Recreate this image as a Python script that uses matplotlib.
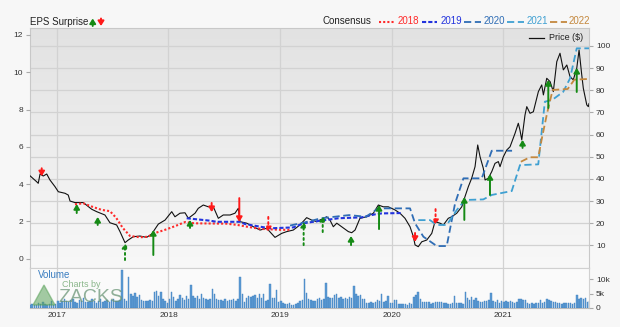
import numpy as np
import matplotlib.pyplot as plt
from matplotlib.lines import Line2D
from matplotlib.colors import LinearSegmentedColormap

plt.rcParams['font.family'] = ['Liberation Sans', 'DejaVu Sans']

# price ($), dates as decimal years
price_dates = [2016.758, 2016.818, 2016.832, 2016.848, 2016.877, 2016.908, 2016.937, 2016.982, 2017.012, 2017.072,
               2017.101, 2017.117, 2017.161, 2017.236, 2017.311, 2017.356, 2017.430, 2017.475, 2017.535, 2017.565,
               2017.610, 2017.639, 2017.684, 2017.744, 2017.804, 2017.849, 2017.909, 2017.969, 2018.029, 2018.058,
               2018.103, 2018.148, 2018.178, 2018.238, 2018.267, 2018.312, 2018.357, 2018.402, 2018.447, 2018.491,
               2018.552, 2018.596, 2018.626, 2018.641, 2018.701, 2018.761, 2018.821, 2018.881, 2018.955, 2019.015,
               2019.060, 2019.119, 2019.179, 2019.239, 2019.284, 2019.329, 2019.374, 2019.419, 2019.448, 2019.478,
               2019.509, 2019.553, 2019.613, 2019.643, 2019.673, 2019.717, 2019.778, 2019.837, 2019.882, 2019.926,
               2019.971, 2020.031, 2020.076, 2020.121, 2020.166, 2020.196, 2020.211, 2020.240, 2020.271, 2020.316,
               2020.361, 2020.390, 2020.435, 2020.465, 2020.509, 2020.540, 2020.585, 2020.630, 2020.659, 2020.689,
               2020.719, 2020.749, 2020.773, 2020.794, 2020.823, 2020.839, 2020.868, 2020.899, 2020.928, 2020.958,
               2020.973, 2021.003, 2021.033, 2021.063, 2021.108, 2021.137, 2021.152, 2021.168, 2021.197, 2021.213,
               2021.242, 2021.272, 2021.317, 2021.347, 2021.362, 2021.392, 2021.422, 2021.451, 2021.482, 2021.511,
               2021.541, 2021.572, 2021.601, 2021.630, 2021.661, 2021.682, 2021.706, 2021.720, 2021.751, 2021.765,
               2021.771]
price_vals = [41.4, 38.7, 38.0, 42.2, 41.3, 42.2, 39.5, 36.5, 34.2, 33.5,
              32.7, 30.0, 29.3, 29.3, 26.3, 25.2, 23.7, 20.2, 19.2, 16.2,
              11.2, 12.4, 13.9, 14.2, 13.6, 15.1, 19.6, 21.4, 25.2, 22.9,
              24.5, 24.7, 22.2, 24.5, 26.7, 28.2, 27.4, 27.4, 22.2, 23.7,
              23.7, 24.5, 26.7, 20.7, 20.0, 18.4, 16.9, 17.7, 13.6, 15.4,
              16.2, 16.9, 19.2, 22.5, 21.4, 20.7, 21.8, 22.9, 21.4, 18.4,
              20.0, 18.4, 16.2, 15.7, 16.9, 22.2, 22.9, 24.5, 28.2, 27.4,
              27.4, 26.0, 24.5, 22.2, 18.4, 13.9, 10.2, 9.4, 11.6, 12.4,
              15.4, 20.7, 20.0, 19.2, 22.2, 22.9, 24.5, 27.4, 32.0, 36.5,
              40.3, 45.5, 55.3, 50.0, 44.8, 39.5, 40.3, 43.3, 47.0, 47.8,
              45.5, 50.0, 53.0, 54.5, 60.6, 65.1, 62.0, 57.6, 68.8, 72.6,
              69.6, 70.3, 79.4, 82.4, 77.9, 85.4, 83.9, 79.4, 92.9, 96.7,
              89.2, 91.4, 86.1, 84.7, 89.9, 98.2, 86.9, 80.9, 73.4, 72.6,
              74.0]

# consensus EPS by fiscal year
c2018_dates = [2017.161, 2017.236, 2017.311, 2017.400, 2017.475, 2017.530, 2017.590, 2017.655, 2017.744, 2017.819,
               2017.880, 2017.969, 2018.060, 2018.150, 2018.230, 2018.520, 2018.620, 2018.720, 2018.830, 2019.000, 2019.090]
c2018_vals = [2.92, 2.97, 2.80, 2.62, 2.55, 2.20, 1.65, 1.22, 1.15, 1.18,
              1.38, 1.55, 1.75, 1.97, 1.90, 1.88, 1.81, 1.70, 1.60, 1.55, 1.55]
c2019_dates = [2018.163, 2018.372, 2018.432, 2018.641, 2018.686, 2018.821, 2018.910, 2019.119, 2019.209, 2019.343,
               2019.523, 2019.733, 2019.852, 2019.912, 2020.091]
c2019_vals = [2.17, 2.04, 1.98, 1.98, 1.86, 1.72, 1.63, 1.68, 1.90, 2.02,
              2.17, 2.22, 2.38, 2.43, 2.45]
c2020_dates = [2019.090, 2019.209, 2019.370, 2019.620, 2019.770, 2019.882, 2020.166, 2020.211, 2020.286, 2020.406,
               2020.495, 2020.570, 2020.645, 2020.809, 2020.899, 2021.081]
c2020_vals = [1.78, 1.93, 2.17, 2.34, 2.25, 2.70, 2.70, 1.90, 1.18, 0.68,
              0.68, 2.97, 4.31, 4.31, 5.79, 5.79]
c2021_dates = [2020.240, 2020.345, 2020.405, 2020.495, 2020.585, 2020.659, 2020.823, 2020.899, 2021.078, 2021.152,
               2021.316, 2021.375, 2021.440, 2021.540, 2021.601, 2021.661, 2021.771]
c2021_vals = [2.07, 2.07, 1.81, 1.81, 2.61, 3.15, 3.18, 3.42, 3.63, 5.02,
              5.06, 8.42, 8.51, 8.95, 9.67, 11.28, 11.28]
c2022_dates = [2021.160, 2021.240, 2021.316, 2021.350, 2021.395, 2021.445, 2021.580, 2021.640, 2021.771]
c2022_vals = [5.20, 5.44, 5.44, 6.50, 7.80, 9.05, 9.10, 9.60, 9.64]

# EPS surprise arrows
surp_dates = [2016.863, 2017.177, 2017.365, 2017.610, 2017.864, 2018.193, 2018.387, 2018.635, 2018.895, 2019.212,
              2019.383, 2019.637, 2019.888, 2020.211, 2020.395, 2020.653, 2020.883, 2021.175, 2021.406, 2021.661]
surp_from = [4.85, 2.45, 1.81, -0.07, 0.20, 1.65, 2.99, 3.25, 2.24, 0.73,
             1.43, 0.73, 1.59, 1.38, 2.66, 2.08, 3.42, 5.94, 8.08, 8.94]
surp_to = [4.42, 2.93, 2.24, 0.84, 1.54, 2.08, 2.50, 1.97, 1.43, 1.97,
           2.29, 1.22, 2.88, 0.90, 1.81, 3.31, 4.54, 6.37, 9.58, 10.23]
surp_dotted = [0, 0, 0, 1, 0, 0, 0, 0, 1, 1, 1, 0, 0, 0, 1, 0, 0, 0, 0, 0]

# weekly volume (thousands)
vol_2016 = [1.0, 1.2, 0.9, 1.1, 1.5, 1.3, 2.0, 1.2, 1.0, 1.4, 2.2, 1.1, 1.3]
vol_2017 = [2.5, 1.8, 2.2, 3.0, 2.4, 1.9, 2.6, 3.2, 2.1, 1.7, 2.8, 2.3, 3.5, 2.0, 1.9, 2.4, 2.9, 2.2, 1.8, 2.5,
            3.1, 2.0, 2.3, 2.7, 1.9, 2.6, 3.0, 2.2, 2.4, 2.8, 13.3, 3.2, 2.5, 10.9, 5.0, 4.2, 5.3, 3.8, 4.6, 2.6,
            2.4, 2.5, 2.3, 2.6, 2.4, 5.6, 5.8, 4.0, 5.5, 3.0, 2.5, 1.8]
vol_2018 = [3.2, 5.6, 3.8, 2.4, 3.0, 4.5, 3.5, 2.6, 4.2, 3.0, 8.0, 4.3, 3.6, 4.0, 3.2, 4.8, 3.4, 3.0, 2.8, 3.0,
            6.5, 5.0, 3.2, 2.6, 2.8, 2.4, 3.0, 2.5, 2.8, 2.6, 3.0, 2.2, 3.0, 10.7, 5.0, 2.0, 3.5, 4.2, 3.8, 4.0,
            4.6, 3.4, 5.0, 3.6, 4.8, 2.5, 2.7, 8.3, 3.3, 3.5, 6.2, 2.0]
vol_2019 = [2.2, 1.6, 1.2, 1.3, 1.8, 1.1, 1.0, 1.4, 1.8, 2.5, 2.7, 10.0, 5.2, 2.9, 2.6, 2.2, 2.4, 3.0, 3.3, 2.8,
            3.2, 8.6, 3.9, 3.6, 3.4, 4.5, 4.7, 3.3, 3.9, 3.0, 3.6, 3.2, 3.8, 3.3, 7.6, 4.8, 4.0, 4.6, 3.2, 2.9,
            1.8, 1.7, 1.9, 1.8, 2.0, 2.7, 2.2, 4.8, 2.0, 2.2, 4.1, 1.6]
vol_2020 = [1.8, 2.7, 2.8, 1.2, 1.3, 1.4, 1.2, 1.0, 1.6, 1.4, 3.9, 4.5, 5.4, 3.0, 1.9, 2.0, 2.0, 1.9, 1.3, 1.8,
            2.0, 1.9, 2.1, 1.9, 1.8, 1.5, 1.3, 1.3, 1.5, 4.1, 1.6, 1.5, 1.6, 1.4, 5.6, 3.3, 2.6, 3.9, 2.8, 3.5,
            2.2, 2.0, 2.0, 2.4, 2.2, 2.8, 5.3, 2.4, 2.0, 2.7, 1.6, 2.2]
vol_2021 = [2.0, 2.3, 1.9, 2.2, 2.0, 1.8, 2.1, 2.9, 3.2, 2.8, 2.6, 1.7, 1.4, 1.5, 1.3, 1.5, 1.7, 2.7, 1.6, 2.1,
            3.0, 2.6, 2.4, 2.0, 2.1, 1.6, 1.5, 1.4, 1.7, 1.5, 1.5, 1.6, 1.4, 1.5, 4.5, 3.2, 3.6, 3.0, 3.5, 2.0, 2.4]
vol_start = 2016.758

years = [2017, 2018, 2019, 2020, 2021]
price_ticks = [10, 20, 30, 40, 50, 60, 70, 80, 90, 100]
eps_ticks = [0, 2, 4, 6, 8, 10, 12]

W, H = 620, 327
fig = plt.figure(figsize=(W / 100, H / 100), dpi=100)
fig.patch.set_facecolor('#f7f7f7')

def fx(x):
    return x / W

def fy(y):
    return 1 - y / H

ax = fig.add_axes([fx(30), fy(267.5), fx(589) - fx(30), fy(28) - fy(267.5)])
axv = fig.add_axes([fx(30), fy(307.7), fx(589) - fx(30), fy(267.5) - fy(307.7)], sharex=ax)

# gradient background
cm = LinearSegmentedColormap.from_list('bg', ['#f8f8f8', '#e2e2e2'])
ax.imshow(np.linspace(0, 1, 256).reshape(-1, 1), cmap=cm, origin='lower', aspect='auto',
          extent=[0, 1, 0, 1], transform=ax.transAxes, zorder=-10)

ax.set_xlim(2016.758, 2021.771)
ax.set_ylim(0, 108.1)
ax.plot(price_dates, price_vals, color='#111111', lw=0.8, zorder=3)

# EPS axis
ax2 = ax.twinx()
ax2.set_ylim(-0.47, 12.37)

# price ticks right, EPS ticks left
ax.yaxis.tick_right()
ax.yaxis.set_label_position('right')
ax2.yaxis.tick_left()
ax2.yaxis.set_label_position('left')

ax.set_yticks(price_ticks)
ax.set_xticks(years)
ax.grid(True, color='#d2d2d2', lw=0.9)
ax.set_axisbelow(True)
ax.tick_params(axis='x', labelbottom=False, length=0)
ax.tick_params(axis='y', labelsize=6, labelcolor='#333333', color='#aaaaaa', length=3, pad=2)
for s in ax.spines.values():
    s.set_color('#c8c8c8')
    s.set_linewidth(0.8)

ax2.set_yticks(eps_ticks)
ax2.tick_params(axis='y', labelsize=6, labelcolor='#333333', color='#aaaaaa', length=3, pad=2)
for s in ax2.spines.values():
    s.set_visible(False)

ax2.plot(c2018_dates, c2018_vals, color='#ff2a2a', lw=1.5, ls=(0, (1, 1)))
ax2.plot(c2019_dates, c2019_vals, color='#2233dd', lw=1.5, ls=(0, (2, 1)))
ax2.plot(c2020_dates, c2020_vals, color='#2f6db5', lw=1.3, ls=(0, (4, 2)))
ax2.plot(c2021_dates, c2021_vals, color='#3fa0d2', lw=1.3, ls=(0, (4, 2)))
ax2.plot(c2022_dates, c2022_vals, color='#c4883e', lw=1.3, ls=(0, (4, 2)))

for d, a, b, dot in zip(surp_dates, surp_from, surp_to, surp_dotted):
    col = '#158a15' if b > a else '#ff1a1a'
    ax2.annotate('', xy=(d, b), xytext=(d, a),
                 arrowprops=dict(arrowstyle='-|>,head_length=0.28,head_width=0.17', color=col, lw=1.4,
                                 ls=':' if dot else '-', shrinkA=0, shrinkB=0, mutation_scale=10))

# volume
vol_vals = vol_2016 + vol_2017 + vol_2018 + vol_2019 + vol_2020 + vol_2021
vol_dates = vol_start + np.arange(len(vol_vals)) / 52
axv.set_facecolor('#fafafa')
axv.bar(vol_dates, vol_vals, width=0.013, color='#5d9bd3', edgecolor='#3f80c0', lw=0.3, zorder=3)
axv.set_ylim(0, 14.2)
axv.set_xticks(years)
axv.set_xticklabels([str(y) for y in years])
axv.yaxis.tick_right()
axv.set_yticks([0, 5, 10])
axv.set_yticklabels(['0', '5k', '10k'])
axv.grid(True, axis='x', color='#d2d2d2', lw=0.9)
axv.set_axisbelow(True)
axv.tick_params(axis='x', labelsize=6, labelcolor='#333333', length=0, pad=3)
axv.tick_params(axis='y', labelsize=6, labelcolor='#333333', color='#aaaaaa', length=3, pad=2)
for s in axv.spines.values():
    s.set_color('#d0d0d0')
    s.set_linewidth(0.8)
axv.spines['bottom'].set_color('#bbbbbb')
axv.text(0.015, 0.95, 'Volume', transform=axv.transAxes, fontsize=7, color='#3a7dc0', va='top')

# watermark
fig.text(fx(62), fy(284.5), 'Charts by', fontsize=6.5, color='#7fb07f', alpha=0.9, va='center')
fig.text(fx(58), fy(298), 'ZACKS', fontsize=14, color='#6c9678', alpha=0.75, va='center')
fig.add_artist(plt.Polygon([[fx(33), fy(305)], [fx(55), fy(305)], [fx(44), fy(285)]],
                           closed=True, color='#5aa25a', alpha=0.55, transform=fig.transFigure))

# header legend
fig.text(fx(30), fy(22), 'EPS Surprise', fontsize=7, color='#222222', va='center')
ax.annotate('', xy=(92.7, H - 18.5), xytext=(92.7, H - 26), xycoords='figure pixels', textcoords='figure pixels',
            arrowprops=dict(arrowstyle='-|>,head_length=0.28,head_width=0.18', color='#158a15', lw=1.4,
                            shrinkA=0, shrinkB=0, mutation_scale=10))
ax.annotate('', xy=(101, H - 26), xytext=(101, H - 18.5), xycoords='figure pixels', textcoords='figure pixels',
            arrowprops=dict(arrowstyle='-|>,head_length=0.28,head_width=0.18', color='#ff1a1a', lw=1.4,
                            shrinkA=0, shrinkB=0, mutation_scale=10))
fig.text(fx(322.5), fy(21.5), 'Consensus', fontsize=7, color='#222222', va='center')
leg_items = [(379, 395, 398, '2018', '#ff2a2a', 1.5, (0, (1, 1))),
             (421.5, 437, 440.5, '2019', '#2233dd', 1.5, (0, (2, 1))),
             (464, 481, 484, '2020', '#2f6db5', 1.3, (0, (4, 2))),
             (507, 524, 526.5, '2021', '#3fa0d2', 1.3, (0, (4, 2))),
             (550, 567, 569, '2022', '#c4883e', 1.3, (0, (4, 2)))]
for x0, x1, xt, lab, col, lw, ls in leg_items:
    fig.add_artist(Line2D([fx(x0), fx(x1)], [fy(21.5), fy(21.5)], color=col, lw=lw, ls=ls,
                          transform=fig.transFigure))
    fig.text(fx(xt), fy(21.5), lab, fontsize=7, color=col, va='center')

fig.add_artist(Line2D([fx(529), fx(544)], [fy(38), fy(38)], color='#111111', lw=0.9, transform=fig.transFigure))
fig.text(fx(549), fy(38), 'Price ($)', fontsize=6.5, color='#222222', va='center')

fig.savefig('out.png', dpi=100, facecolor=fig.get_facecolor())
